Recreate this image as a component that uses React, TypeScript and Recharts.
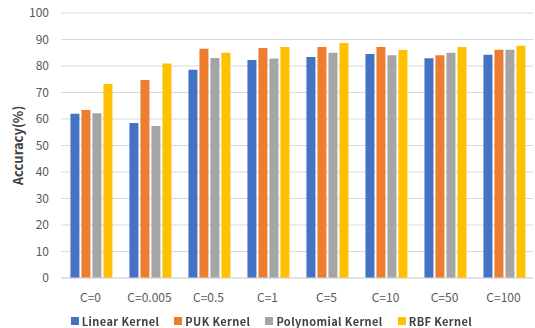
import React from 'react';
import { BarChart, Bar, XAxis, YAxis, CartesianGrid, Legend } from 'recharts';

const categories = ['C=0', 'C=0.005', 'C=0.5', 'C=1', 'C=5', 'C=10', 'C=50', 'C=100'];
const linearKernel = [62.0, 58.5, 78.6, 82.3, 83.4, 84.5, 82.9, 84.2];
const pukKernel = [63.4, 74.7, 86.5, 86.8, 87.2, 87.2, 84.1, 86.1];
const polynomialKernel = [62.2, 57.4, 83.0, 82.8, 85.0, 84.1, 85.0, 86.1];
const rbfKernel = [73.2, 80.9, 85.0, 87.2, 88.7, 86.0, 87.2, 87.6];
const yTicks = [0, 10, 20, 30, 40, 50, 60, 70, 80, 90, 100];

const series = [
  { key: 'linear', name: 'Linear Kernel', color: '#4472C4' },
  { key: 'puk', name: 'PUK Kernel', color: '#ED7D31' },
  { key: 'poly', name: 'Polynomial Kernel', color: '#A5A5A5' },
  { key: 'rbf', name: 'RBF Kernel', color: '#FFC000' },
];

const data = categories.map((c, i) => ({
  category: c,
  linear: linearKernel[i],
  puk: pukKernel[i],
  poly: polynomialKernel[i],
  rbf: rbfKernel[i],
}));

const FONT = '"Noto Sans CJK KR", "Noto Sans", sans-serif';

const LegendContent = () => (
  <div
    style={{
      display: 'flex',
      justifyContent: 'center',
      gap: 15,
      fontFamily: FONT,
      fontSize: 11,
      fontWeight: 700,
      letterSpacing: 0.4,
      color: '#404040',
      lineHeight: '14px',
      paddingLeft: 10,
    }}
  >
    {series.map((s) => (
      <div key={s.key} style={{ display: 'flex', alignItems: 'center', gap: 3 }}>
        <span style={{ width: 8, height: 8, background: s.color, display: 'inline-block' }} />
        <span>{s.name}</span>
      </div>
    ))}
  </div>
);

export default function App() {
  return (
    <div style={{ position: 'fixed', left: 0, top: 0, width: 535, height: 328, background: '#fff' }}>
      <BarChart
        width={535}
        height={328}
        data={data}
        margin={{ top: 13, right: 2, bottom: 0, left: 0 }}
        barCategoryGap="16%"
        barGap={2}
      >
        <CartesianGrid vertical={false} stroke="#D9D9D9" />
        <XAxis
          dataKey="category"
          tickLine={false}
          axisLine={{ stroke: '#D9D9D9' }}
          tick={{ fill: '#595959', fontSize: 12, fontFamily: FONT }}
          tickMargin={9}
          height={36}
        />
        <YAxis
          domain={[0, 100]}
          ticks={yTicks}
          width={61}
          tickLine={false}
          axisLine={false}
          tickMargin={6}
          tick={{ fill: '#595959', fontSize: 12, fontFamily: FONT }}
          label={{
            value: 'Accuracy(%)',
            angle: -90,
            position: 'insideLeft',
            offset: 18,
            style: { fill: '#404040', fontSize: 13, fontWeight: 700, fontFamily: FONT, textAnchor: 'middle' },
          }}
        />
        <Legend verticalAlign="bottom" height={14} content={<LegendContent />} />
        {series.map((s) => (
          <Bar key={s.key} dataKey={s.key} name={s.name} fill={s.color} isAnimationActive={false} />
        ))}
      </BarChart>
    </div>
  );
}
